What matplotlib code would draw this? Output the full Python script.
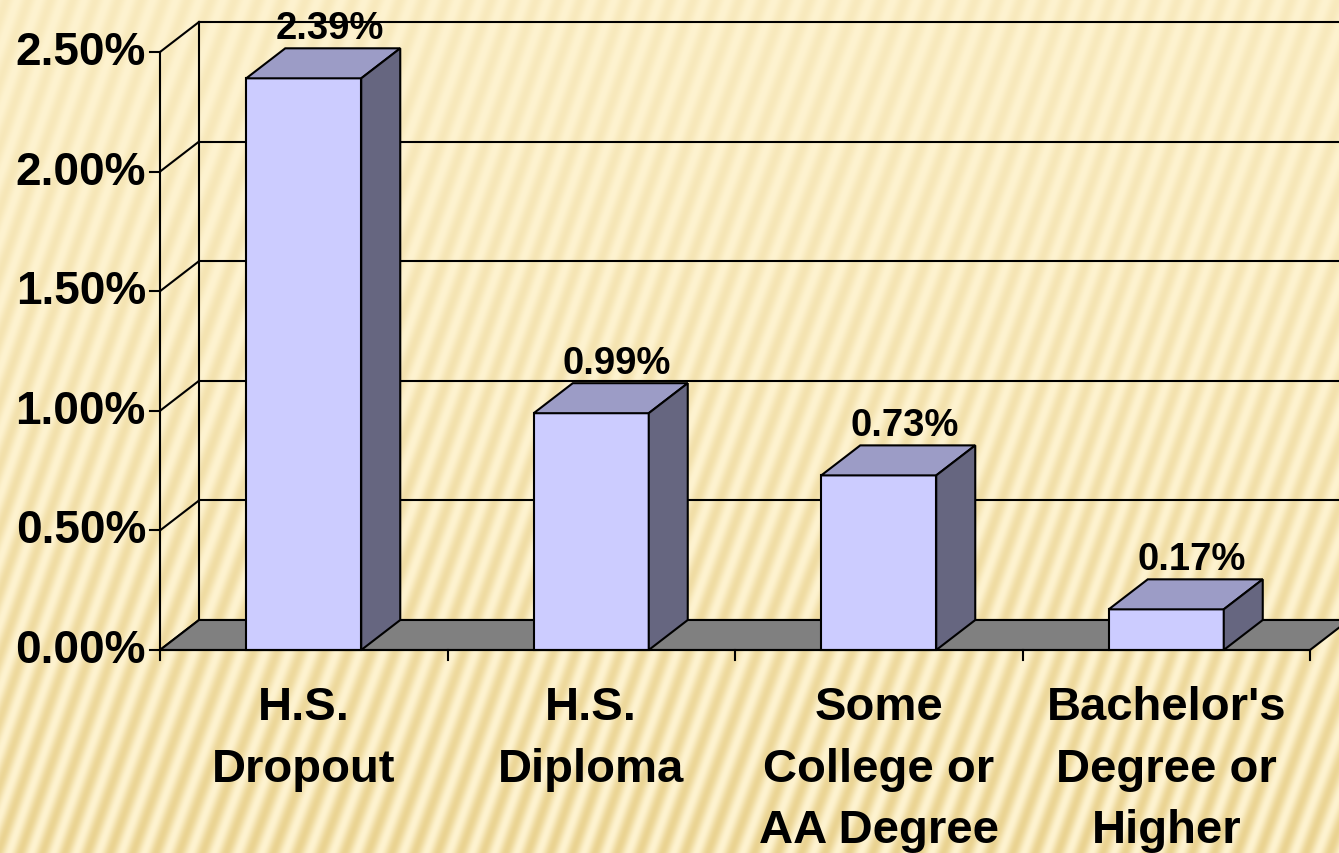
"""3D-style bar chart: rate by education level, PowerPoint look."""

import matplotlib

matplotlib.use("Agg")
import matplotlib.pyplot as plt
import numpy as np
from matplotlib.patches import Polygon

categories = [
    "H.S.\nDropout",
    "H.S.\nDiploma",
    "Some\nCollege or\nAA Degree",
    "Bachelor's\nDegree or\nHigher",
]
rates = [2.39, 0.99, 0.73, 0.17]
value_labels = ["2.39%", "0.99%", "0.73%", "0.17%"]
y_ticks = [0.0, 0.5, 1.0, 1.5, 2.0, 2.5]
y_tick_labels = ["0.00%", "0.50%", "1.00%", "1.50%", "2.00%", "2.50%"]

W, H = 1339, 854
X0, Y0 = 160, 651          # pixel position of the front origin (from top)
PX_CAT = 287.5             # pixels per category
PX_PCT = 239.2             # pixels per 1 %
DX = 39 / PX_CAT           # depth offset, data units
DY = 30 / PX_PCT
BAR_W = 0.4

FRONT = "#ccccff"
TOP = "#9c9cc6"
SIDE = "#666680"
FLOOR = "#808080"
LW = 1.5

plt.rcParams["font.family"] = ["Liberation Sans", "DejaVu Sans"]

fig = plt.figure(figsize=(W / 100, H / 100), dpi=100)

# background texture
bg = fig.add_axes([0, 0, 1, 1])
yy, xx = np.mgrid[0:H, 0:W]
phase = (xx + 0.36 * yy) / 23.0
stripe = 0.5 + 0.5 * np.sin(2 * np.pi * phase + 0.8 * np.sin(xx / 90.0))
weight = 0.3 + 0.7 * (yy / H) ** 1.4
light = np.array([254, 243, 208]) / 255
dark = np.array([234, 211, 145]) / 255
t = (stripe * weight)[..., None]
img = light * (1 - t) + dark * t
bg.imshow(img, aspect="auto", extent=[0, W, H, 0])
bg.set_axis_off()

ax = fig.add_axes([0, 0, 1, 1])
ax.set_xlim(-0.5 - X0 / PX_CAT, -0.5 + (W - X0) / PX_CAT)
ax.set_ylim(-(H - Y0) / PX_PCT, Y0 / PX_PCT)
ax.set_axis_off()
ax.patch.set_alpha(0)

n = len(rates)
left, right = -0.5, n - 0.5
top_val = y_ticks[-1]

# back wall and left wall grid
for v in y_ticks:
    ax.plot([left + DX, right + 2 * DX], [v + DY, v + DY], color="black", lw=LW, zorder=1)
    ax.plot([left, left + DX], [v, v + DY], color="black", lw=LW, zorder=1)
    ax.plot([left - 10 / PX_CAT, left], [v, v], color="black", lw=LW, zorder=5)
ax.plot([left + DX, left + DX], [DY, top_val + DY], color="black", lw=LW, zorder=1)

# floor
floor = Polygon(
    [(left, 0), (right, 0), (right + DX, DY), (left + DX, DY)],
    closed=True, facecolor=FLOOR, edgecolor="black", lw=LW, zorder=2,
)
ax.add_patch(floor)

# bars
for i, val in enumerate(rates):
    x1, x2 = i - BAR_W / 2, i + BAR_W / 2
    front = Polygon([(x1, 0), (x2, 0), (x2, val), (x1, val)],
                    facecolor=FRONT, edgecolor="black", lw=LW, zorder=3)
    top = Polygon([(x1, val), (x2, val), (x2 + DX, val + DY), (x1 + DX, val + DY)],
                  facecolor=TOP, edgecolor="black", lw=LW, zorder=3)
    side = Polygon([(x2, 0), (x2 + DX, DY), (x2 + DX, val + DY), (x2, val)],
                   facecolor=SIDE, edgecolor="black", lw=LW, zorder=3)
    for p in (front, top, side):
        ax.add_patch(p)
    ax.text(i + 0.09, val + DY + 10 / PX_PCT, value_labels[i], ha="center",
            va="baseline", fontsize=27.5, fontweight="bold", zorder=6)

# front axes
ax.plot([left, left], [0, top_val], color="black", lw=LW, zorder=5)
ax.plot([left, right], [0, 0], color="black", lw=LW, zorder=5)
for b in np.arange(n + 1) - 0.5:
    ax.plot([b, b], [0, -10 / PX_PCT], color="black", lw=LW, zorder=5)

for v, lab in zip(y_ticks, y_tick_labels):
    ax.text(left - 14 / PX_CAT, v, lab, ha="right", va="center",
            fontsize=33, fontweight="bold")

for i, lab in enumerate(categories):
    ax.text(i, -35 / PX_PCT, lab, ha="center", va="top", fontsize=34,
            fontweight="bold", linespacing=1.52, multialignment="center")

fig.savefig("out.png", dpi=100)
